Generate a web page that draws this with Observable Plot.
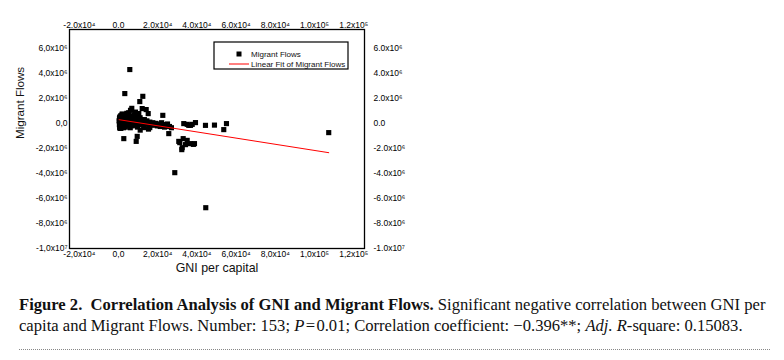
<!DOCTYPE html>
<html><head><meta charset="utf-8">
<script src="https://cdn.jsdelivr.net/npm/d3@7"></script>
<script src="https://cdn.jsdelivr.net/npm/@observablehq/plot@0.6"></script>
<style>
body{margin:0;background:#fff;}
#wrap{position:relative;width:784px;height:360px;overflow:hidden;}
#chart{position:absolute;left:0;top:0;}
.cap{position:absolute;left:19px;font-family:"Liberation Serif","Times New Roman",serif;font-size:16.6px;line-height:18px;color:#111;white-space:nowrap;}
#dots{position:absolute;left:19px;top:349px;width:751px;border-top:1.5px dotted #888;}
</style></head><body>
<div id="wrap">
  <div id="chart"></div>
  <div class="cap" id="l1" style="top:296px"><b>Figure 2.&nbsp; Correlation Analysis of GNI and Migrant Flows.</b> Significant negative correlation between GNI per</div>
  <div class="cap" id="l2" style="top:317px">capita and Migrant Flows. Number: 153; <i>P</i>&#8202;=&#8202;0.01; Correlation coefficient: −0.396**; <i>Adj. R</i>-square: 0.15083.</div>
  <div id="dots"></div>
</div>
<script>
// Tick values
const xTicks = [-20000, 0, 20000, 40000, 60000, 80000, 100000, 120000];
const yTicks = [-10000000, -8000000, -6000000, -4000000, -2000000, 0, 2000000, 4000000, 6000000];

// GNI per capita (x) and Migrant Flows (y)
const gni = [
  5760, 3210, 12400, 10860, 12090, 14130, 15150, 22600, 6120, 8670,
  6780, 1680, 4230, 8520, 10350, 25650, 2700, 9540, 9030, 33300,
  35850, 37600, 39270, 44370, 48960, 55080, 53700, 33000, 35040, 31260,
  36720, 38760, 34170, 32280, 28710, 44520, 107250, 12900, 15960, 870,
  11070, 15300, 30750, 35040, 36720, 32500, 38200,
  300, 450, 600, 700, 800, 900, 1000, 1100, 1200, 1300,
  1400, 1500, 1600, 1800, 2000, 2100, 2300, 2500, 2700, 2900,
  3100, 3300, 3500, 3700, 3900, 4100, 4300, 4500, 4700, 5000,
  5200, 5400, 5600, 5900, 6100, 6400, 6700, 7000, 7300, 7600,
  7900, 8200, 8500, 8800, 9100, 9400, 9700, 10000, 10400, 10800,
  11200, 11600, 12000, 12500, 13000, 13500, 14000, 14500, 15000, 15500,
  16000, 16800, 17500, 18200, 19000, 19800, 20500, 21300, 22000, 22800,
  23500, 24300, 25000, 26000, 27000,
  500, 1700, 2600, 4000, 6000, 8000, 9000, 11000, 13200, 2200,
  3400, 5800, 7200, 600, 1900
];
const flows = [
  4300000, 2380000, 2160000, 1740000, 1180000, 1100000, 780000, 640000, 1040000, 900000,
  1200000, 660000, 800000, 720000, 780000, -820000, -1220000, -1040000, -1440000, -20000,
  -160000, -80000, 60000, -160000, -140000, -20000, -500000, -1220000, -1360000, -1540000,
  -1620000, -1620000, -1700000, -2100000, -3940000, -6740000, -740000, -340000, -340000, -400000,
  -540000, -460000, -1440000, -80000, -160000, -1940000, -1680000,
  200000, -100000, 500000, 100000, -250000, 350000, 0, 600000, -400000, 250000,
  150000, -100000, 450000, 50000, 300000, -200000, 550000, 100000, 350000, -50000,
  200000, 700000, -300000, 400000, 100000, 250000, -150000, 500000, 50000, 300000,
  850000, -100000, 150000, 450000, 0, 600000, 200000, -200000, 350000, 100000,
  500000, -50000, 250000, 0, 400000, 100000, -300000, 200000, 50000, 350000,
  -100000, 150000, 0, 250000, -150000, 100000, -50000, 200000, 0, -200000,
  100000, -100000, 50000, -150000, 0, -200000, -50000, -250000, 50000, -100000,
  -300000, -150000, -50000, -250000, -350000,
  400000, -300000, -350000, 600000, -350000, 650000, -150000, 450000, 300000, 100000,
  0, 250000, 50000, -350000, 750000
];

// Linear fit parameters
const fitIntercept = 300000;
const fitSlope = -24.65;

const points = gni.map((g, i) => ({gni: g, flow: flows[i]}));
const [gMin, gMax] = d3.extent(gni);
const fit = [gMin, gMax].map(g => ({gni: g, flow: fitIntercept + fitSlope * g}));

const sup = {"0":"⁰","1":"¹","2":"²","3":"³","4":"⁴","5":"⁵","6":"⁶","7":"⁷","8":"⁸","9":"⁹","-":"⁻"};
const fmt = sep => d => {
  if (d === 0) return "0" + sep + "0";
  const e = Math.floor(Math.log10(Math.abs(d)) + 1e-9);
  const m = (d / Math.pow(10, e)).toFixed(1).replace(".", sep);
  return m + "x10" + String(e).split("").map(c => sup[c]).join("");
};

const font = "'Liberation Sans', Arial, sans-serif";
const chart = Plot.plot({
  width: 784, height: 285,
  marginLeft: 69, marginRight: 420, marginTop: 29, marginBottom: 37,
  style: {fontFamily: font, fontSize: "8.5px", color: "#000", background: "transparent", overflow: "visible"},
  x: {domain: [-25000, 125500]},
  y: {domain: [-10000000, 7500000]},
  marks: [
    Plot.axisX({anchor: "bottom", ticks: xTicks, tickFormat: fmt(","), tickSize: 0, tickPadding: 2, label: null, fontSize: 8.5}),
    Plot.axisX({anchor: "top", ticks: xTicks, tickFormat: fmt("."), tickSize: 0, tickPadding: 2, label: null, fontSize: 8.5}),
    Plot.axisY({anchor: "left", ticks: yTicks, tickFormat: fmt(","), tickSize: 0, tickPadding: 2, label: null, fontSize: 8.5}),
    Plot.axisY({anchor: "right", ticks: yTicks, tickFormat: fmt("."), tickSize: 0, tickPadding: 9, label: null, fontSize: 8.5}),
    Plot.dot(points, {x: "gni", y: "flow", symbol: "square", r: 2.9, fill: "black", stroke: "none"}),
    Plot.line(fit, {x: "gni", y: "flow", stroke: "#ff0000", strokeWidth: 1}),
    Plot.frame({stroke: "black", strokeWidth: 1.3}),
    Plot.text(["GNI per capital"], {frameAnchor: "bottom", dy: 23, fontSize: 12.4, fill: "#111"}),
    Plot.text(["Migrant Flows"], {frameAnchor: "left", dx: -49, rotate: -90, fontSize: 11.6, fill: "#111"})
  ]
});
document.getElementById("chart").appendChild(chart);

// Legend box
const svg = d3.select(chart);
const lg = svg.append("g").attr("font-family", font).attr("font-size", 8).attr("text-anchor", "start");
lg.append("rect").attr("x", 214).attr("y", 42).attr("width", 134).attr("height", 27)
  .attr("fill", "white").attr("stroke", "black").attr("stroke-width", 1.2);
lg.append("rect").attr("x", 236.5).attr("y", 51.5).attr("width", 5).attr("height", 5).attr("fill", "black");
lg.append("line").attr("x1", 229).attr("x2", 249).attr("y1", 64).attr("y2", 64).attr("stroke", "#ff0000").attr("stroke-width", 1);
lg.append("text").attr("x", 251).attr("y", 54).attr("dy", "0.35em").attr("fill", "#111").text("Migrant Flows");
lg.append("text").attr("x", 251).attr("y", 64).attr("dy", "0.35em").attr("fill", "#111").text("Linear Fit of Migrant Flows");
</script>
</body></html>
